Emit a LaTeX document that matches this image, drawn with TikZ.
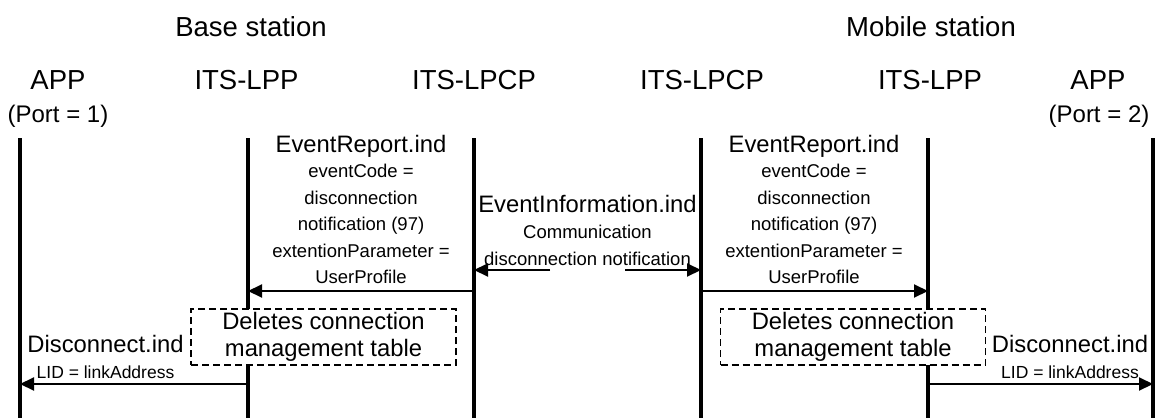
\documentclass[tikz,border=0pt]{standalone}
\usepackage{fontspec}
\setmainfont{Liberation Sans}
\usetikzlibrary{arrows.meta}
\begin{document}
\begin{tikzpicture}[x=1pt,y=-1pt,
  hdr/.style={font=\fontsize{27.5}{33}\selectfont, inner sep=0pt, anchor=base},
  port/.style={font=\fontsize{24}{28}\selectfont, inner sep=0pt, anchor=base},
  mid/.style={font=\fontsize{23.8}{27}\selectfont, inner sep=0pt, anchor=base},
  small/.style={font=\fontsize{18.5}{26.4}\selectfont, inner sep=0pt, align=center},
  lid/.style={font=\fontsize{17.5}{21}\selectfont, inner sep=0pt, anchor=base},
  lifeline/.style={line width=3.5pt},
  msg/.style={line width=2pt, -{Triangle[length=14pt,width=13pt]}},
  procbox/.style={draw, dashed, dash pattern=on 7pt off 4pt, line width=1.5pt, fill=white,
    minimum width=265pt, minimum height=56pt, inner sep=0pt, align=center,
    font=\fontsize{23.8}{27}\selectfont}]
\useasboundingbox (0,0) rectangle (1157,418);

% group titles
\node[hdr] (bs) at (251,36.5) {Base station};
\node[hdr] (ms) at (931,36.5) {Mobile station};

% entity headers
\node[hdr] (h1) at (58,89) {APP};
\node[hdr] (h2) at (246.5,89) {ITS-LPP};
\node[hdr] (h3) at (474,89) {ITS-LPCP};
\node[hdr] (h4) at (702,89) {ITS-LPCP};
\node[hdr] (h5) at (930,89) {ITS-LPP};
\node[hdr] (h6) at (1098,89) {APP};
\node[port] (p1) at (58,122) {(Port = 1)};
\node[port] (p6) at (1099,122) {(Port = 2)};

% lifelines
\foreach \n/\x in {1/20,2/248,3/474,4/701,5/928,6/1153}{
  \coordinate (t\n) at (\x,138);
  \coordinate (b\n) at (\x,418);
  \draw[lifeline] (t\n) -- (b\n);
}

% EventReport.ind (base station)
\node[mid] (er1) at (361,152) {EventReport.ind};
\node[small] (er1b) at (361,224) {eventCode =\\disconnection\\notification (97)\\extentionParameter =\\UserProfile};
\coordinate (a3) at (474,291);
\coordinate (a2) at (248,291);
\draw[msg] (a3) -- (a2);

% EventReport.ind (mobile station)
\node[mid] (er2) at (814,152) {EventReport.ind};
\node[small] (er2b) at (814,224) {eventCode =\\disconnection\\notification (97)\\extentionParameter =\\UserProfile};
\coordinate (c4) at (701,291);
\coordinate (c5) at (928,291);
\draw[msg] (c4) -- (c5);

% EventInformation.ind
\node[mid] (ei) at (587.5,212.5) {EventInformation.ind};
\node[small] (eib) at (587.5,245.5) {Communication\\disconnection notification};
\coordinate (eL) at (550,270);
\coordinate (eR) at (625,270);
\coordinate (e3) at (474,270);
\coordinate (e4) at (701,270);
\draw[msg] (eL) -- (e3);
\draw[msg] (eR) -- (e4);

% processing boxes
\node[procbox] (d1) at (323.5,337) {Deletes connection\\management table};
\node[procbox] (d2) at (853,337) {Deletes connection\\management table};

% Disconnect.ind
\node[mid] (dc1) at (105.5,352) {Disconnect.ind};
\node[lid] (l1) at (105.5,378) {LID = linkAddress};
\coordinate (f2) at (248,384);
\coordinate (f1) at (20,384);
\draw[msg] (f2) -- (f1);

\node[mid] (dc2) at (1070,352) {Disconnect.ind};
\node[lid] (l2) at (1070,378) {LID = linkAddress};
\coordinate (g5) at (928,384);
\coordinate (g6) at (1153,384);
\draw[msg] (g5) -- (g6);
\end{tikzpicture}
\end{document}
